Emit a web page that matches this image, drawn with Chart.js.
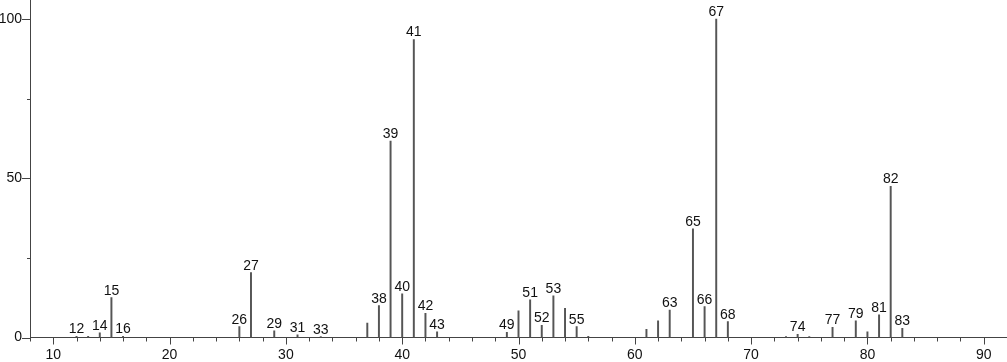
<!DOCTYPE html>
<html>
<head>
<meta charset="utf-8">
<script src="https://cdn.jsdelivr.net/npm/chart.js@4"></script>
<style>
  html, body { margin: 0; padding: 0; background: #fff; overflow: hidden; }
  #wrap { width: 1007px; height: 362px; position: relative; }
</style>
</head>
<body>
<div id="wrap"><canvas id="c"></canvas></div>
<script>
// m/z values of peaks
const mz = [12,13,14,15,16,26,27,29,31,33,37,38,39,40,41,42,43,49,50,51,52,53,54,55,56,61,62,63,65,66,67,68,73,74,75,77,79,80,81,82,83];
// relative intensities (%)
const intensity = [0.4,0.4,1.5,12.5,0.4,3.4,20.4,2.1,0.8,0.3,4.5,10.0,61.7,13.7,93.6,7.6,1.8,1.6,8.4,11.8,3.8,13.1,9.2,3.4,0.4,2.6,5.2,8.6,34.1,9.7,100,5.0,0.3,1.0,0.3,3.2,5.2,1.8,7.1,47.5,2.9];
// peaks carrying a text label
const labeled = [12,14,15,16,26,27,29,31,33,38,39,40,41,42,43,49,51,52,53,55,63,65,66,67,68,74,77,79,81,82,83];
// axis tick values
const xMajorTicks = [10,20,30,40,50,60,70,80,90];
const yMajorTicks = [0,50,100];

const FONT = "'Liberation Sans', Arial, sans-serif";
const AXIS = '#444';
const TEXT = '#111';

const peakLabels = {
  id: 'peakLabels',
  afterDatasetsDraw(chart) {
    const ctx = chart.ctx;
    const meta = chart.getDatasetMeta(0);
    ctx.save();
    ctx.font = '14px ' + FONT;
    ctx.fillStyle = TEXT;
    ctx.textAlign = 'center';
    ctx.textBaseline = 'alphabetic';
    meta.data.forEach((el, i) => {
      if (labeled.includes(mz[i])) {
        ctx.fillText(String(mz[i]), el.x, el.y - 3);
      }
    });
    ctx.restore();
  }
};

const customTicks = {
  id: 'customTicks',
  afterDraw(chart) {
    const ctx = chart.ctx;
    const xs = chart.scales.x, ys = chart.scales.y;
    const ay = ys.getPixelForValue(0);
    const ax = xs.getPixelForValue(xs.min);
    ctx.save();
    ctx.strokeStyle = AXIS;
    ctx.lineWidth = 1;
    for (let v = xs.min; v <= xs.max; v += 2) {
      const px = Math.round(xs.getPixelForValue(v)) + 0.5;
      const len = xMajorTicks.includes(v) ? 7 : 4;
      ctx.beginPath();
      ctx.moveTo(px, ay);
      ctx.lineTo(px, ay + len);
      ctx.stroke();
    }
    for (let v = 0; v <= 100; v += 25) {
      const py = Math.round(ys.getPixelForValue(v)) + 0.5;
      const len = yMajorTicks.includes(v) ? 8 : 3;
      ctx.beginPath();
      ctx.moveTo(ax, py);
      ctx.lineTo(ax - len, py);
      ctx.stroke();
    }
    ctx.restore();
  }
};

new Chart(document.getElementById('c'), {
  type: 'bar',
  data: {
    datasets: [{
      data: mz.map((m, i) => ({ x: m, y: intensity[i] })),
      backgroundColor: '#555',
      borderWidth: 0,
      barThickness: 1.3
    }]
  },
  options: {
    responsive: true,
    maintainAspectRatio: false,
    animation: false,
    layout: { padding: 0 },
    plugins: { legend: { display: false }, tooltip: { enabled: false } },
    scales: {
      x: {
        type: 'linear',
        min: 8,
        max: 92,
        offset: false,
        grid: { display: false, drawTicks: false },
        border: { display: true, color: AXIS, width: 1 },
        ticks: {
          stepSize: 2,
          autoSkip: false,
          maxRotation: 0,
          padding: 9,
          color: TEXT,
          font: { family: FONT, size: 14 },
          callback: (v) => xMajorTicks.includes(v) ? String(v) : ''
        },
        afterFit: (s) => { s.height = 24.5; s.paddingLeft = 0; s.paddingRight = 0; }
      },
      y: {
        min: 0,
        max: 106,
        grid: { display: false, drawTicks: false },
        border: { display: true, color: AXIS, width: 1 },
        ticks: {
          stepSize: 25,
          includeBounds: false,
          padding: 8,
          color: TEXT,
          font: { family: FONT, size: 14 },
          callback: (v) => yMajorTicks.includes(v) ? String(v) : ''
        },
        afterFit: (s) => { s.width = 30; s.paddingTop = 0; s.paddingBottom = 0; }
      }
    }
  },
  plugins: [peakLabels, customTicks]
});
</script>
</body>
</html>
